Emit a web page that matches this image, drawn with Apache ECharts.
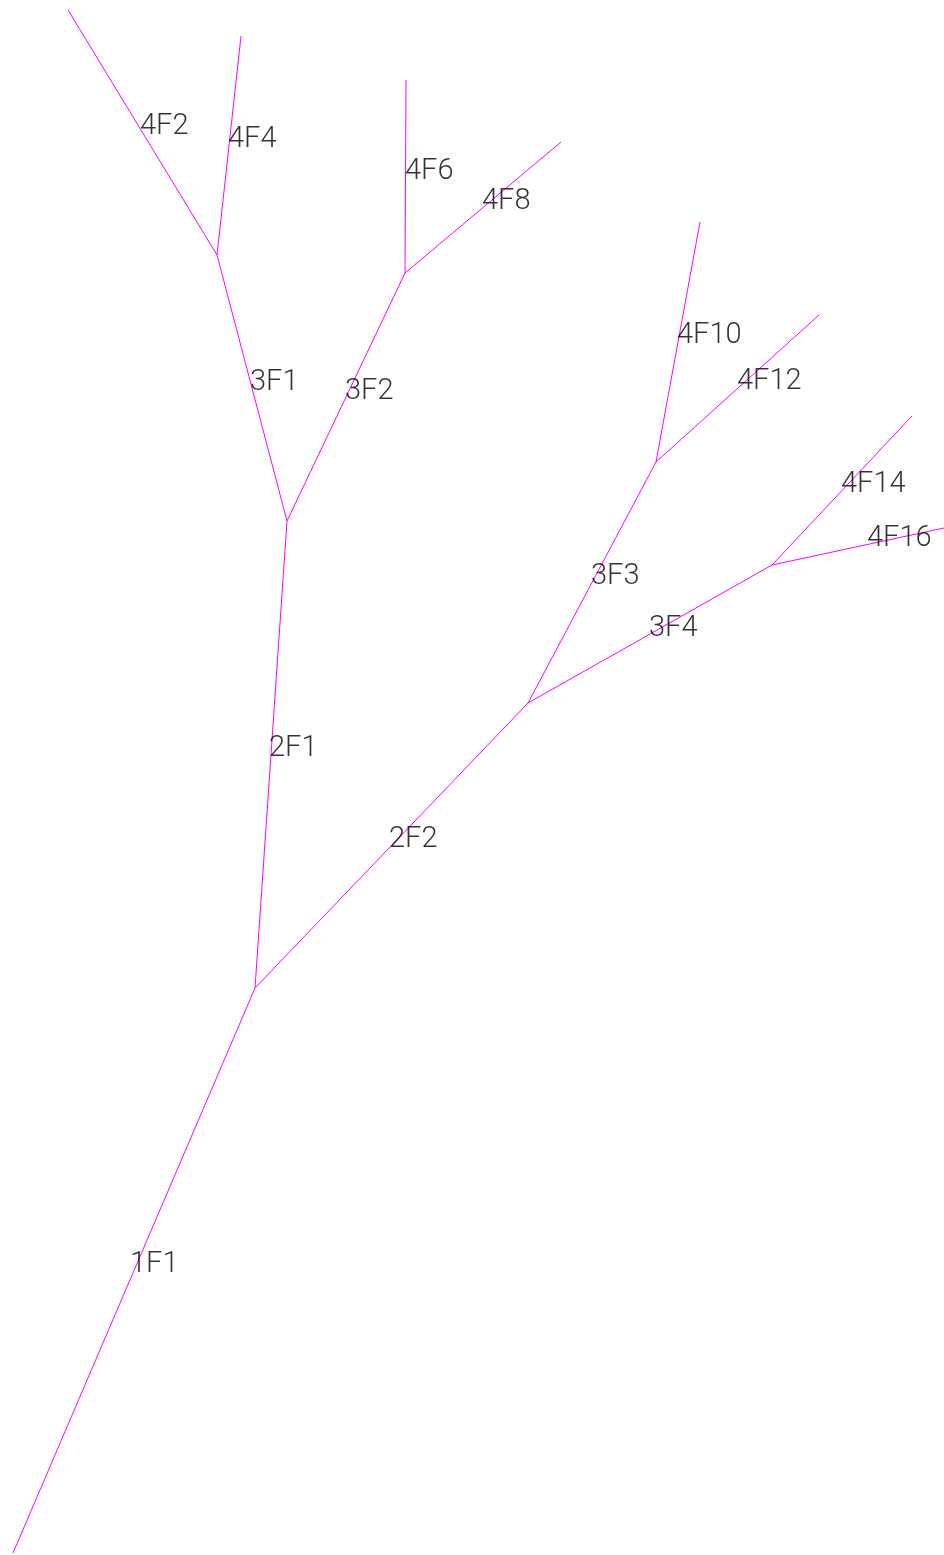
<!DOCTYPE html>
<html><head><meta charset="utf-8">
<script src="https://cdn.jsdelivr.net/npm/echarts@6/dist/echarts.min.js"></script>
<style>html,body{margin:0;padding:0;background:#fff}#c{width:944px;height:1555px}</style>
</head><body><div id="c"></div>
<script>
// Node coordinates in drawing units (x right, y down)
const nodeNames = ['R','N1','N2a','N2b','N3a','N3b','N3c','N3d','E4F2','E4F4','E4F6','E4F8','E4F10','E4F12','E4F14','E4F16'];
const nodeX = [13, 255, 287, 528, 217, 405, 656, 772, 68, 241, 406, 561, 700, 819, 912, 944];
const nodeY = [1553, 988, 521, 703, 255, 273, 462, 565, 10, 36, 80, 142, 222, 315, 416, 528];
// Branches: name, from node, to node
const branchNames = ['1F1','2F1','2F2','3F1','3F2','3F3','3F4','4F2','4F4','4F6','4F8','4F10','4F12','4F14','4F16'];
const branchFrom = ['R','N1','N1','N2a','N2a','N2b','N2b','N3a','N3a','N3b','N3b','N3c','N3c','N3d','N3d'];
const branchTo = ['N1','N2a','N2b','N3a','N3b','N3c','N3d','E4F2','E4F4','E4F6','E4F8','E4F10','E4F12','E4F14','E4F16'];
// Label anchor (left edge, vertical centre)
const labelX = [130, 269, 389, 250, 345, 591, 649, 140, 228, 405, 482, 677, 737, 841, 867];
const labelY = [1265, 749, 840, 383, 392, 577, 629, 127, 140, 172, 202, 336, 382, 485, 539];

const idx = n => nodeNames.indexOf(n);
const lineData = branchNames.map((b, i) => ({
  name: b,
  coords: [[nodeX[idx(branchFrom[i])], nodeY[idx(branchFrom[i])]],
           [nodeX[idx(branchTo[i])], nodeY[idx(branchTo[i])]]]
}));
const labelData = branchNames.map((b, i) => ({ name: b, value: [labelX[i], labelY[i]] }));

const chart = echarts.init(document.getElementById('c'));
chart.setOption({
  animation: false,
  backgroundColor: '#ffffff',
  grid: { left: 0, right: 0, top: 0, bottom: 0 },
  xAxis: { type: 'value', min: 0, max: 944, show: false },
  yAxis: { type: 'value', min: 0, max: 1555, inverse: true, show: false },
  series: [
    {
      type: 'lines',
      coordinateSystem: 'cartesian2d',
      lineStyle: { color: '#ff00ff', width: 1, opacity: 1 },
      data: lineData,
      silent: true
    },
    {
      type: 'scatter',
      symbolSize: 0,
      data: labelData,
      label: {
        show: true,
        position: 'inside',
        formatter: p => p.name,
        align: 'left',
        verticalAlign: 'middle',
        color: '#000',
        fontFamily: 'Roboto',
        fontWeight: 300,
        fontSize: 29
      },
      silent: true
    }
  ]
});
</script></body></html>
